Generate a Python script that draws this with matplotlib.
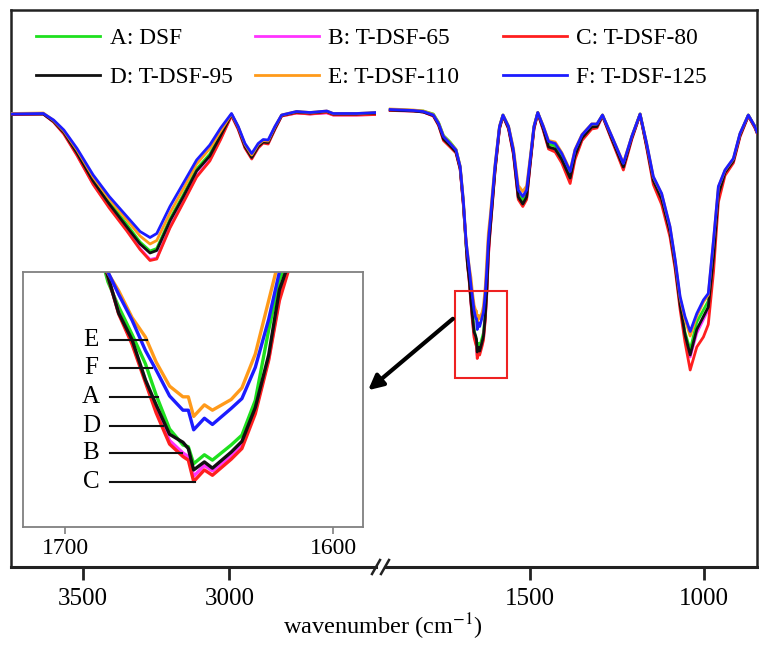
import matplotlib.pyplot as plt
from matplotlib.patches import Rectangle, FancyArrowPatch
from matplotlib.lines import Line2D

plt.rcParams['font.family'] = ['Liberation Serif', 'DejaVu Serif']
plt.rcParams['mathtext.fontset'] = 'stix'

# wavenumber grids (cm-1) for the two windows of the broken axis
wn_high = [3748, 3635, 3600, 3565, 3520, 3465, 3410, 3350, 3305, 3271, 3248,
           3203, 3158, 3112, 3067, 3030, 2993, 2970, 2947, 2924, 2902, 2885,
           2868, 2845, 2822, 2771, 2725, 2668, 2646, 2566, 2497]
wn_low = [1902, 1835, 1807, 1778, 1763, 1749, 1730, 1713, 1701, 1692,
          1684, 1680, 1675, 1670, 1666, 1661, 1656, 1654, 1652, 1648, 1645,
          1638, 1634, 1629, 1624, 1620,
          1615, 1601, 1588, 1578, 1562, 1548, 1534, 1521, 1510, 1500, 1489,
          1478, 1462, 1447, 1428, 1409, 1385, 1371, 1351, 1323, 1308, 1292,
          1265, 1232, 1208, 1184, 1165, 1146, 1122, 1098, 1083, 1069, 1055,
          1040, 1021, 1002, 988, 973, 959, 940, 916, 897, 873, 854, 848]

# transmittance (a.u.)
a_high = [90.6, 90.6, 89.2, 87.0, 83.0, 77.5, 73.0, 68.5, 65.0, 63.2, 63.7,
          69.6, 74.4, 79.6, 82.6, 86.6, 90.5, 87.9, 84.3, 82.1, 84.3, 85.1,
          85.0, 87.8, 90.3, 91.0, 90.8, 91.1, 90.6, 90.6, 90.8]
b_high = [90.5, 90.6, 89.0, 86.7, 82.4, 76.6, 72.0, 67.4, 63.7, 61.5, 61.8,
          68.0, 73.0, 78.2, 81.4, 85.7, 90.3, 87.6, 83.9, 81.8, 83.9, 84.9,
          84.7, 87.6, 90.2, 90.8, 90.6, 90.8, 90.4, 90.4, 90.5]
c_high = [90.5, 90.6, 89.0, 86.6, 82.3, 76.5, 71.8, 67.2, 63.5, 61.3, 61.6,
          67.8, 72.8, 78.0, 81.2, 85.5, 90.3, 87.5, 83.8, 81.6, 83.8, 84.8,
          84.6, 87.5, 90.2, 90.8, 90.6, 90.9, 90.4, 90.4, 90.5]
d_high = [90.6, 90.6, 89.1, 86.9, 82.8, 77.2, 72.6, 68.0, 64.6, 62.8, 63.3,
          69.2, 74.0, 79.2, 82.2, 86.3, 90.5, 87.8, 84.1, 81.9, 84.1, 85.0,
          84.9, 87.7, 90.3, 91.0, 90.8, 91.1, 90.6, 90.6, 90.8]
e_high = [90.7, 90.8, 89.3, 87.2, 83.4, 78.0, 73.6, 69.4, 66.2, 64.6, 65.3,
          70.8, 75.6, 80.6, 83.7, 87.2, 90.6, 88.0, 84.5, 82.4, 84.5, 85.3,
          85.2, 88.0, 90.4, 91.1, 90.9, 91.2, 90.7, 90.7, 90.9]
f_high = [90.6, 90.7, 89.4, 87.4, 83.7, 78.4, 74.1, 70.1, 67.1, 65.9, 66.7,
          72.1, 76.7, 81.4, 84.4, 87.8, 90.7, 88.1, 84.7, 82.7, 84.7, 85.5,
          85.4, 88.1, 90.4, 91.1, 90.9, 91.2, 90.7, 90.7, 90.9]

a_low = [91.5, 91.3, 91.2, 90.6, 88.9, 86.3, 85.0, 83.5, 80.0, 73.0,
         64.1, 61.3, 58.2, 54.9, 51.4, 47.6, 45.8, 45.6, 43.7, 44.7, 44.1,
         45.8, 46.9, 50.8, 58.7, 64.3,
         68.0, 79.6, 88.0, 90.4, 88.0, 83.2, 74.8, 73.4, 74.8, 81.0, 88.0,
         90.9, 87.9, 84.6, 84.2, 82.1, 78.5, 82.9, 86.1, 88.3, 88.4, 90.4,
         85.9, 80.3, 86.0, 90.6, 84.4, 77.6, 74.0, 67.4, 60.8, 53.0, 47.0,
         43.4, 49.0, 51.4, 53.2, 63.5, 75.3, 79.1, 81.4, 86.5, 90.4, 88.1, 87.0]
b_low = [91.3, 91.2, 91.0, 90.2, 88.4, 85.5, 84.2, 83.0, 79.6, 72.6,
         64.7, 60.6, 57.3, 53.0, 49.7, 46.3, 44.9, 44.5, 42.3, 43.5, 42.9,
         44.6, 45.8, 49.6, 55.5, 62.3,
         67.3, 79.2, 87.7, 90.2, 87.7, 82.7, 73.8, 72.4, 73.8, 80.5, 87.6,
         90.8, 87.4, 83.8, 83.3, 81.1, 77.2, 81.9, 85.5, 87.8, 87.9, 90.2,
         85.4, 79.7, 85.6, 90.5, 84.0, 77.0, 73.2, 66.6, 60.0, 52.2, 46.0,
         42.0, 46.8, 49.5, 51.5, 61.5, 74.0, 78.7, 81.0, 86.2, 90.2, 87.9, 86.9]
c_low = [91.3, 91.2, 91.0, 90.2, 88.3, 85.3, 84.0, 82.8, 79.5, 72.5,
         64.7, 60.5, 57.1, 52.8, 49.4, 45.9, 44.5, 44.1, 41.7, 43.0, 42.4,
         44.2, 45.4, 49.3, 55.3, 62.0,
         67.0, 79.0, 87.6, 90.2, 87.6, 82.5, 73.5, 72.1, 73.5, 80.3, 87.5,
         90.8, 87.3, 83.6, 83.0, 80.8, 76.7, 81.5, 85.3, 87.6, 87.8, 90.2,
         85.3, 79.4, 85.5, 90.5, 83.8, 76.5, 72.5, 66.0, 59.5, 51.5, 45.0,
         39.4, 44.0, 46.0, 48.5, 59.0, 73.0, 78.3, 80.8, 86.0, 90.2, 87.8, 86.8]
d_low = [91.4, 91.2, 91.0, 90.3, 88.5, 85.6, 84.3, 83.0, 79.7, 72.8,
         64.7, 60.6, 57.6, 53.1, 50.3, 47.0, 46.1, 45.4, 43.0, 43.9, 43.2,
         45.0, 46.2, 50.0, 55.9, 63.2,
         67.5, 79.3, 87.8, 90.3, 87.8, 82.9, 74.0, 72.6, 74.0, 80.7, 87.8,
         90.8, 87.6, 84.0, 83.6, 81.5, 77.8, 82.3, 85.8, 88.0, 88.1, 90.3,
         85.6, 80.0, 85.8, 90.5, 84.2, 77.3, 73.6, 67.0, 60.3, 52.5, 46.5,
         42.4, 47.5, 50.1, 52.0, 62.0, 74.5, 78.9, 81.2, 86.3, 90.3, 88.0, 86.9]
e_low = [91.6, 91.4, 91.2, 90.5, 88.8, 86.2, 84.8, 83.5, 80.2, 73.6,
         65.1, 63.1, 60.1, 57.9, 55.1, 52.4, 51.2, 51.2, 49.0, 50.3, 49.7,
         50.9, 52.2, 56.0, 62.0, 66.8,
         70.0, 80.4, 88.2, 90.4, 88.2, 83.8, 76.3, 75.1, 76.2, 81.8, 88.2,
         90.9, 88.2, 85.3, 85.0, 82.9, 79.3, 83.5, 86.5, 88.6, 88.6, 90.4,
         86.1, 80.8, 86.1, 90.6, 84.7, 78.0, 74.6, 68.0, 61.2, 53.8, 49.6,
         46.2, 50.2, 53.0, 54.4, 65.2, 76.0, 79.3, 81.6, 86.6, 90.4, 88.1, 87.0]
f_low = [91.5, 91.3, 91.1, 90.4, 88.7, 86.1, 84.7, 83.4, 80.1, 73.4,
         65.2, 62.7, 59.8, 56.4, 54.2, 51.3, 49.7, 49.7, 47.5, 48.8, 48.1,
         49.9, 51.0, 54.5, 59.9, 65.2,
         69.0, 80.1, 88.1, 90.4, 88.1, 83.4, 75.4, 74.1, 75.4, 81.4, 88.1,
         90.9, 88.1, 85.1, 84.7, 82.7, 79.1, 83.4, 86.4, 88.6, 88.6, 90.4,
         86.1, 80.7, 86.1, 90.6, 84.7, 78.1, 74.7, 68.1, 61.4, 54.1, 50.1,
         47.1, 50.7, 53.4, 54.7, 65.4, 76.1, 79.4, 81.7, 86.7, 90.4, 88.1, 87.0]

names = ['A: DSF', 'B: T-DSF-65', 'C: T-DSF-80',
         'D: T-DSF-95', 'E: T-DSF-110', 'F: T-DSF-125']
colors = ['#1ee01e', '#ff33ff', '#ff1f1f', '#111111', '#ff9a1a', '#1c1cff']
highs = [a_high, b_high, c_high, d_high, e_high, f_high]
lows = [a_low, b_low, c_low, d_low, e_low, f_low]

W, H = 759, 646


def box(x0, y0, x1, y1):
    return [x0 / W, 1 - y1 / H, (x1 - x0) / W, (y1 - y0) / H]


fig = plt.figure(figsize=(W / 100, H / 100), dpi=100)

# outer frame (top, left, right); bottom is drawn by the two data axes
frame = fig.add_axes(box(10.5, 10, 757, 567))
frame.set_xticks([])
frame.set_yticks([])
frame.spines['bottom'].set_visible(False)
for s in ['top', 'left', 'right']:
    frame.spines[s].set_linewidth(1.8)
    frame.spines[s].set_color('#222222')

ax1 = fig.add_axes(box(10.5, 10, 376, 567))
ax2 = fig.add_axes(box(385, 10, 757, 567))
for ax, xl, ticks in [(ax1, (3747, 2500), [3500, 3000]),
                      (ax2, (1917, 848), [1500, 1000])]:
    ax.set_xlim(*xl)
    ax.set_ylim(0, 111.4)
    ax.patch.set_visible(False)
    for s in ['top', 'left', 'right']:
        ax.spines[s].set_visible(False)
    ax.spines['bottom'].set_linewidth(2.2)
    ax.spines['bottom'].set_color('#222222')
    ax.set_yticks([])
    ax.set_xticks(ticks)
    ax.tick_params(axis='x', direction='out', length=9, width=2,
                   color='#222222', labelsize=18, pad=6)

handles = []
for lab, col, yh, yl in zip(names, colors, highs, lows):
    h, = ax1.plot(wn_high, yh, color=col, lw=2.0, label=lab)
    ax2.plot(wn_low, yl, color=col, lw=2.0)
    handles.append(h)

# break marks on the x axis
for px in (376, 385):
    fig.add_artist(Line2D([(px - 4) / W, (px + 4) / W],
                          [1 - 574 / H, 1 - 560 / H],
                          transform=fig.transFigure, color='#222222', lw=1.8))

# red box around the amide I band
ax2.add_patch(Rectangle((1566, 37.8), 150, 17.4, fill=False,
                        ec='#ee2222', lw=1.5, zorder=4))

# zoomed inset of the amide I band
axin = fig.add_axes(box(23, 272, 363, 527), zorder=5)
axin.set_xlim(1715.7, 1588.8)
axin.set_ylim(36.6, 65.2)
axin.set_yticks([])
axin.set_xticks([1700, 1600])
axin.tick_params(axis='x', direction='out', length=5, width=1.2,
                 color='#808080', labelsize=17, pad=3)
for s in axin.spines.values():
    s.set_color('#808080')
    s.set_linewidth(1.3)
for col, yl in zip(colors, lows):
    axin.plot(wn_low, yl, color=col, lw=2.4)

# letter tags inside the inset
tag_rows = [('E', 57.6, 1669.4), ('F', 54.4, 1667.5), ('A', 51.2, 1665.3),
            ('D', 47.9, 1663.4), ('B', 44.9, 1656.3), ('C', 41.6, 1651.5)]
for letter, ty, xend in tag_rows:
    axin.text(1690.3, ty, letter, ha='center', va='center', fontsize=18)
    axin.plot([1683.2, xend], [ty, ty], color='#111111', lw=1.5)

fig.add_artist(FancyArrowPatch((455 / W, 1 - 317 / H), (366 / W, 1 - 392 / H),
                               transform=fig.transFigure, arrowstyle='-|>',
                               mutation_scale=22, lw=3, color='black',
                               zorder=6))

# legend: one two-row block per column
for col_x, pair in [(36, (0, 3)), (255, (1, 4)), (503, (2, 5))]:
    leg = fig.legend([handles[i] for i in pair], [names[i] for i in pair],
                     loc='upper left', bbox_to_anchor=(col_x / W, 1 - 28 / H),
                     frameon=False, fontsize=16.8, handlelength=2.75,
                     handletextpad=0.4, labelspacing=0.75, borderaxespad=0,
                     borderpad=0)

fig.text(383 / W, 1 - 627 / H, r'wavenumber (cm$^{-1}$)', ha='center',
         va='center', fontsize=17.5)

fig.savefig('out.png', dpi=100)
